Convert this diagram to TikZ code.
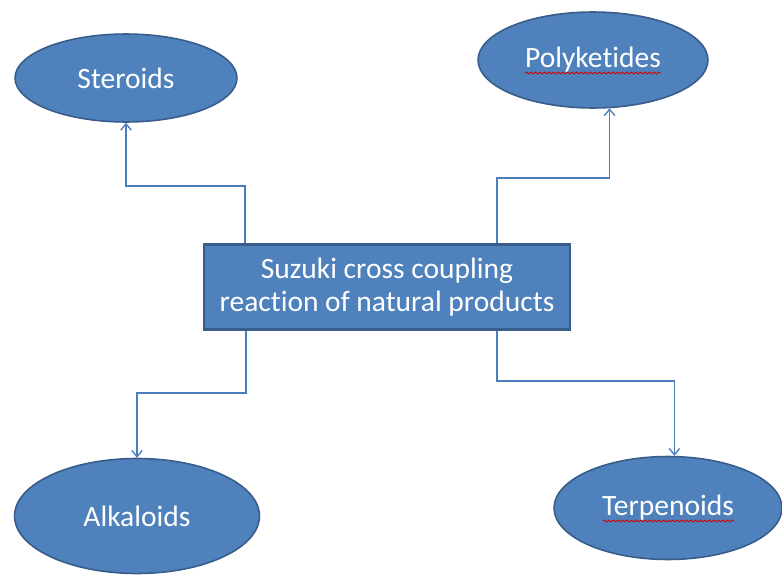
\documentclass[tikz,border=0pt]{standalone}
\usepackage{fontspec}
\setmainfont{Carlito}[Ligatures=NoCommon]
\usetikzlibrary{arrows.meta, positioning, shapes.geometric, decorations.pathmorphing}
\definecolor{accblue}{HTML}{4F81BD}
\definecolor{accedge}{HTML}{385D8A}
\definecolor{linkblue}{HTML}{4A7EBB}

\begin{document}
\begin{tikzpicture}[
    x=0.02cm, y=-0.02cm,
    >={Straight Barb[length=3.6pt, width=6pt]},
    arr/.style={->, draw=linkblue, line width=0.75pt},
    topic/.style={ellipse, draw=accedge, line width=0.9pt, fill=accblue, text=white, inner sep=0pt, font=\fontsize{16.8}{20}\selectfont},
    core/.style={rectangle, draw=accedge, line width=1.3pt, fill=accblue, text=white, align=center, minimum width=7.32cm, minimum height=1.7cm, font=\fontsize{16.8}{19}\selectfont},
    spell/.style={draw=red!85!black, line width=0.5pt, decorate, decoration={snake, amplitude=0.5pt, segment length=2.6pt}},
]
\useasboundingbox (0,0) rectangle (782,575);
% ============================================================
% centre box
% ============================================================
\node[core] (core) at (387, 287) {Suzuki cross coupling\\reaction of natural products};
% ============================================================
% the four product classes
% ============================================================
\node[topic, minimum width=4.44cm, minimum height=1.76cm] (ster) at (126, 78) {Steroids};
\node[topic, minimum width=4.6cm, minimum height=1.92cm] (poly) at (593, 60) {Polyketides};
\node[topic, minimum width=4.9cm, minimum height=2.3cm] (alka) at (137, 516) {Alkaloids};
\node[topic, minimum width=4.56cm, minimum height=2.06cm] (terp) at (668, 508) {Terpenoids};
% --- spell-check underlines ---
\draw[spell] ([shift={(-68,13)}]poly.center) -- ([shift={(68,13)}]poly.center);
\draw[spell] ([shift={(-65,13)}]terp.center) -- ([shift={(66,13)}]terp.center);
% ============================================================
% elbow connectors
% ============================================================
\coordinate (sbend) at (245, 186);
\coordinate (pbend) at (497, 178);
\coordinate (abend) at (246, 393);
\coordinate (tbend) at (497, 381);
\draw[arr] (core.north -| sbend) -- (sbend) -| (ster.south);
\draw[arr] (core.north -| pbend) -- (pbend) -| (poly.289);
\draw[arr] (core.south -| abend) -- (abend) -| (alka.north);
\draw[arr] (core.south -| tbend) -- (tbend) -| (terp.83);
\end{tikzpicture}
\end{document}
